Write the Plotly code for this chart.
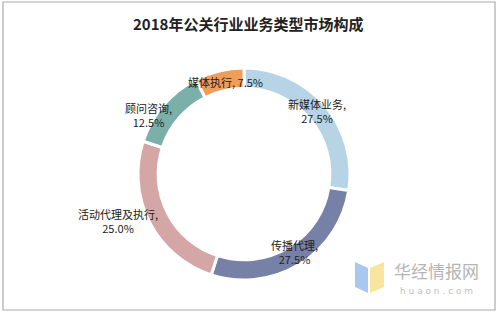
import math
import plotly.graph_objects as go

categories = ["新媒体业务", "传播代理", "活动代理及执行", "顾问咨询", "媒体执行"]
values = [27.5, 27.5, 25.0, 12.5, 7.5]
colors = ["#B7D4E6", "#7780A6", "#D4A6A6", "#7BB0AA", "#F19C58"]
label_lines = [["新媒体业务,", "27.5%"], ["传播代理,", "27.5%"], ["活动代理及执行,", "25.0%"],
               ["顾问咨询,", "12.5%"], ["媒体执行, 7.5%"]]
label_shift = [(0, 0), (0, -4), (-40, 3), (-22, 4), (4, 2)]

W, H = 498, 314
cx, cy, R = 244, 174, 106
hole = 0.81

fig = go.Figure(go.Pie(
    labels=categories, values=values, sort=False, direction="clockwise", rotation=0,
    hole=hole, marker=dict(colors=colors, line=dict(color="white", width=3)),
    textinfo="none", hoverinfo="label+percent", showlegend=False,
    domain=dict(x=[(cx - R) / W, (cx + R) / W], y=[1 - (cy + R) / H, 1 - (cy - R) / H]),
))

total = sum(values)
cum = 0
r_lab = R * (1 + hole) / 2 + 0.5
annotations = []
for cat, v, lines, (dx, dy) in zip(categories, values, label_lines, label_shift):
    mid = (cum + v / 2) / total * 2 * math.pi
    cum += v
    px = cx + r_lab * math.sin(mid) + dx
    py = cy - r_lab * math.cos(mid) + dy
    annotations.append(dict(x=px / W, y=1 - py / H, xref="paper", yref="paper",
                            xanchor="center", yanchor="middle",
                            text="<br>".join(lines), showarrow=False, align="center",
                            font=dict(family="Noto Sans CJK SC", size=11, color="#222")))

annotations.append(dict(x=248 / W, y=1 - 24 / H, xref="paper", yref="paper",
                        xanchor="center", yanchor="middle",
                        text="<b>2018年公关行业业务类型市场构成</b>", showarrow=False,
                        font=dict(family="Noto Sans CJK SC", size=15, color="#222")))
annotations.append(dict(x=436 / W, y=1 - 270 / H, xref="paper", yref="paper",
                        xanchor="center", yanchor="middle",
                        text="华经情报网", showarrow=False,
                        font=dict(family="Noto Sans CJK SC", size=17, color="#B5B5B5")))
annotations.append(dict(x=436 / W, y=1 - 291 / H, xref="paper", yref="paper",
                        xanchor="center", yanchor="middle",
                        text="h u a o n . c o m", showarrow=False,
                        font=dict(family="DejaVu Sans", size=9, color="#C0C0C0")))

shapes = [
    dict(type="rect", xref="paper", yref="paper", x0=3 / W, x1=495 / W, y0=1 - 310 / H, y1=1 - 2 / H,
         line=dict(color="#AAAAAA", width=1.2)),
    dict(type="path", xref="paper", yref="paper",
         path=f"M {355/W},{1-262/H} L {368/W},{1-268/H} L {368/W},{1-293/H} L {355/W},{1-287/H} Z",
         fillcolor="#A9C8F0", line=dict(width=0)),
    dict(type="path", xref="paper", yref="paper",
         path=f"M {370/W},{1-268/H} L {384/W},{1-262/H} L {384/W},{1-287/H} L {370/W},{1-293/H} Z",
         fillcolor="#F8E6A0", line=dict(width=0)),
]

fig.update_layout(width=W, height=H, margin=dict(l=0, r=0, t=0, b=0),
                  paper_bgcolor="white", plot_bgcolor="white",
                  annotations=annotations, shapes=shapes)
fig.write_html("out.html")
